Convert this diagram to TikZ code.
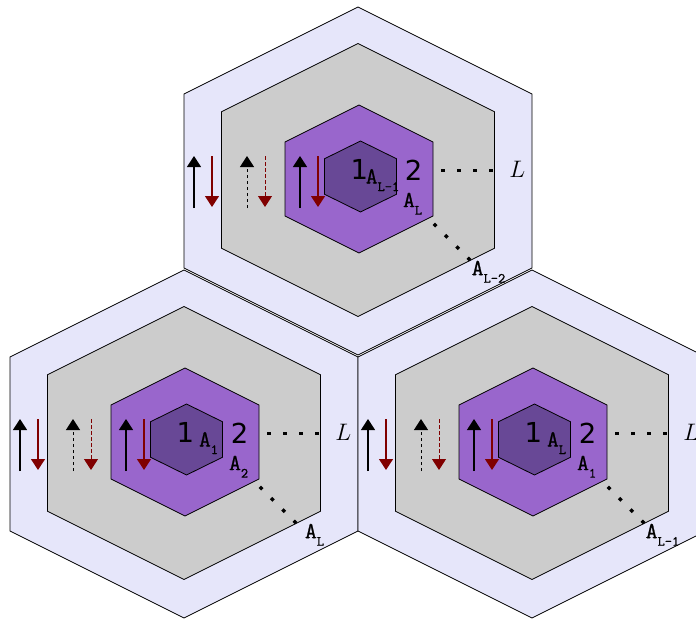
\documentclass[tikz,border=0pt]{standalone}
\usepackage{fontspec}
\usepackage{tikz}
\usetikzlibrary{arrows.meta}
\newfontfamily\digitfont{DejaVu Sans}
\newfontfamily\labfont{Latin Modern Mono}[FakeBold=1]
\definecolor{hexband}{RGB}{230,230,250}
\definecolor{hexgray}{RGB}{204,204,204}
\definecolor{hexpurple}{RGB}{153,102,204}
\definecolor{hexcore}{RGB}{104,72,150}
\definecolor{spinred}{RGB}{128,0,0}
\newcommand{\Asub}[1]{{\labfont\fontsize{23}{23}\selectfont A\raisebox{-7.5pt}{\fontsize{14}{14}\selectfont #1}}}
\newcommand{\hexpath}[5]{\path[#1] (#2,#3-#5) -- (#2+#4,#3-#5/2) -- (#2+#4,#3+#5/2)
  -- (#2,#3+#5) -- (#2-#4,#3+#5/2) -- (#2-#4,#3-#5/2) -- cycle;}
\tikzset{
  band/.style={draw, line width=0.8pt, fill=hexband},
  grayband/.style={draw, line width=0.8pt, fill=hexgray},
  shell/.style={draw, line width=0.8pt, fill=hexpurple},
  core/.style={draw, line width=0.8pt, fill=hexcore},
  spinup/.style={-{Triangle[length=11pt,width=14pt]}, line width=1.2pt, draw=black},
  spindn/.style={spinup, draw=spinred},
  flip/.style={line width=1pt, dash pattern=on 3.5pt off 2.5pt},
  dots/.style={line width=3.5pt, dash pattern=on 3.5pt off 12.5pt},
  digit/.style={font={\digitfont\fontsize{27.5}{30}\selectfont}, inner sep=0pt, anchor=base},
  tlab/.style={inner sep=0pt, anchor=base},
  edgelab/.style={font=\huge, inner sep=0pt, anchor=base},
}
\newcommand{\hexcell}[6]{%
  \begin{scope}[shift={(#2,#3)}]
    \hexpath{band}{0}{0}{174}{174}
    \hexpath{grayband}{0}{-1}{136.5}{136.5}
    \hexpath{shell}{1}{-2}{74}{74}
    \hexpath{core}{2.5}{-4.5}{36}{35.5}
    \draw[spinup] (-164,27) -- (-164,-25);
    \draw[spindn] (-146,-25) -- (-146,26);
    \draw[spinup, flip] (-111,27) -- (-111,-25);
    \draw[spindn, flip] (-93,-25) -- (-93,26);
    \draw[spinup] (-58,27) -- (-58,-25);
    \draw[spindn] (-40,-25) -- (-40,26);
    \draw[dots] (83.3,-10.7) -- (136,-10.7);
    \draw[dots] (75.8,42.8) -- (113,80);
    \node[digit] (#1-one) at (1.3,-1.1) {1};
    \node[tlab] (#1-sub) at (24.5,2.5) {\Asub{#4}};
    \node[digit] (#1-two) at (55.7,-0.8) {2};
    \node[tlab] (#1-subtwo) at (54.6,26.1) {\Asub{#5}};
    \node[edgelab] (#1-L) at (159.3,-3.3) {\scalebox{1.15}{$L$}};
    \node[tlab] (#1-edge) at (130.5,94.2) {\Asub{#6}};
  \end{scope}}
\begin{document}
\begin{tikzpicture}[x=1pt, y=-1pt]
  \useasboundingbox (0,0) rectangle (696,619);
  \clip (0,0) rectangle (696,619);
  \hexcell{left}{184}{444}{1}{2}{L}
  \hexcell{right}{532}{444}{L}{1}{L-1}
  \hexcell{top}{358}{181}{L-1}{L}{L-2}
\end{tikzpicture}
\end{document}
